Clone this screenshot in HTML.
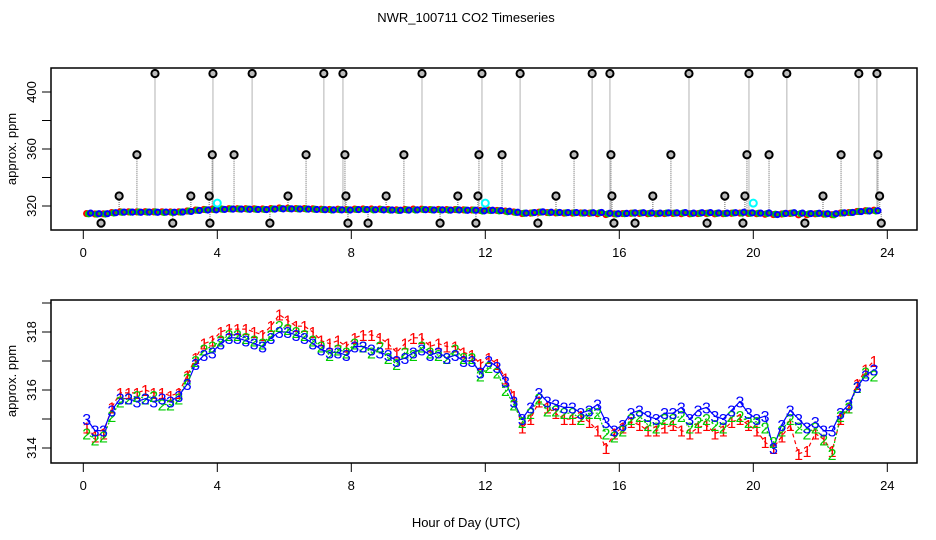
<!DOCTYPE html>
<html><head><meta charset="utf-8"><style>
html,body{margin:0;padding:0;background:#fff;}
svg{display:block;font-family:"Liberation Sans",sans-serif;}
</style></head><body>
<svg id="chart" width="936" height="540" viewBox="0 0 936 540">
<text x="466" y="22" font-size="13" text-anchor="middle">NWR_100711  CO2 Timeseries</text>
<g id="top"></g>
<g id="bot"></g>
<text x="466" y="527" font-size="13" text-anchor="middle">Hour of Day (UTC)</text>
<text transform="translate(16,149) rotate(-90)" font-size="13" text-anchor="middle">approx. ppm</text>
<text transform="translate(16,381) rotate(-90)" font-size="13" text-anchor="middle">approx. ppm</text>
</svg>
<script>
const startHour = 0.1, stepHour = 0.25;
const seriesRed = [314.7,314.4,314.5,315.4,315.9,315.9,315.9,316.0,315.9,315.9,
315.8,315.9,316.5,317.1,317.6,317.7,318.0,318.1,318.1,318.1,
318.0,317.9,318.2,318.6,318.4,318.2,318.2,318.0,317.7,317.6,
317.7,317.5,317.8,317.9,317.9,317.8,317.6,317.3,317.6,317.8,
317.8,317.5,317.6,317.5,317.5,317.3,317.2,316.9,317.1,316.9,
316.4,315.8,314.7,315.0,315.6,315.4,315.2,315.0,315.0,315.1,
314.9,314.6,314.0,314.5,314.7,314.9,314.8,314.6,314.6,314.7,
314.8,314.6,314.5,314.7,314.8,314.5,314.6,314.9,315.0,314.8,
314.6,314.2,314.0,314.4,314.8,313.8,313.9,314.5,314.3,313.9,
315.0,315.4,316.2,316.7,317.0];
const seriesGreen = [314.5,314.3,314.4,315.1,315.6,315.7,315.8,315.7,315.8,315.5,
315.5,315.7,316.4,317.0,317.4,317.5,317.7,317.9,317.9,317.8,
317.7,317.6,317.9,318.2,318.1,318.0,317.9,317.7,317.5,317.2,
317.4,317.3,317.6,317.5,317.3,317.5,317.1,316.9,317.3,317.2,
317.5,317.3,317.2,317.1,317.4,317.1,317.1,316.5,316.8,316.6,
316.0,315.5,314.9,315.2,315.7,315.3,315.3,315.2,315.2,315.0,
315.2,315.2,314.5,314.4,314.6,315.0,315.1,314.8,314.7,315.0,
315.0,315.1,314.7,314.9,315.0,314.8,314.7,315.1,315.1,314.9,
314.9,314.7,314.2,314.6,315.0,314.7,314.5,314.7,314.3,313.8,
315.1,315.4,316.1,316.6,316.5];
const seriesBlue = [315.0,314.6,314.6,315.3,315.7,315.7,315.6,315.7,315.6,315.7,
315.6,315.8,316.2,316.9,317.2,317.3,317.6,317.8,317.8,317.7,
317.6,317.5,317.8,318.0,318.0,317.9,317.8,317.6,317.4,317.3,
317.3,317.2,317.5,317.5,317.4,317.3,317.2,317.0,317.1,317.3,
317.4,317.2,317.3,317.1,317.2,317.0,317.0,316.6,317.0,316.8,
316.3,315.6,315.0,315.4,315.9,315.6,315.5,315.4,315.4,315.2,
315.3,315.5,314.9,314.6,314.8,315.2,315.3,315.1,315.0,315.2,
315.2,315.4,315.0,315.3,315.4,315.1,315.0,315.3,315.6,315.2,
315.0,315.1,314.0,314.8,315.3,315.0,314.7,314.9,314.6,314.6,
315.2,315.5,316.1,316.5,316.7];
const outlierHours = [0.53,1.07,1.6,2.14,2.67,3.21,3.76,3.78,3.85,3.87,4.5,5.04,5.57,6.11,6.65,7.18,7.75,7.81,7.84,7.9,8.5,9.04,9.57,10.11,10.65,11.18,11.72,11.78,11.81,11.9,12.5,13.04,13.57,14.11,14.65,15.19,15.72,15.75,15.78,15.84,16.47,17.0,17.54,18.08,18.62,19.15,19.69,19.75,19.81,19.87,20.47,21.0,21.54,22.08,22.62,23.15,23.69,23.72,23.77,23.82];
const outlierValues = [308,327,356,413,308,327,327,308,356,413,356,413,308,327,356,413,413,356,327,308,308,327,356,413,308,327,308,327,356,413,356,413,308,327,356,413,413,356,327,308,308,327,356,413,308,327,308,327,356,413,356,413,308,327,356,413,413,356,327,308];
const calHours = [4.0,12.0,20.0];
const calValues = [322,322,322];
const xTicks = [0,4,8,12,16,20,24];
const topYTicks = [320,340,360,380,400];
const topYLabels = [320,360,400];
const botYTicks = [314,315,316,317,318,319];
const botYLabels = [314,316,318];

const NS = "http://www.w3.org/2000/svg";
function mk(tag, attrs, parent){const e=document.createElementNS(NS,tag);for(const k in attrs)e.setAttribute(k,attrs[k]);parent.appendChild(e);return e;}
const xS = h => 83.3 + 33.5*h;
const yTop = v => 206 - (v-320)*1.425;
const yBot = v => 448 - (v-314)*29;
const hourAt = i => startHour + stepHour*i;

function axes(g, top, bottom, yScale, yTicks, yLabels, name){
  let r = mk('rect',{x:51,y:top,width:866,height:bottom-top,fill:'none',stroke:'#000','stroke-width':1.5},g);
  
  
  xTicks.forEach(t=>{
    let l = mk('line',{x1:xS(t),x2:xS(t),y1:bottom,y2:bottom+9,stroke:'#000'},g);
    
    
    let tx = mk('text',{x:xS(t),y:bottom+27,'font-size':13,'text-anchor':'middle'},g);
    tx.textContent = t;
    
    
  });
  yTicks.forEach(t=>{
    let l = mk('line',{x1:42,x2:51,y1:yScale(t),y2:yScale(t),stroke:'#000'},g);
    
    
  });
  yLabels.forEach(t=>{
    let tx = mk('text',{transform:`translate(36,${yScale(t)}) rotate(-90)`,'font-size':13,'text-anchor':'middle'},g);
    tx.textContent = t;
    
    
  });
}

// TOP PANEL
const gt = document.getElementById('top');
outlierHours.forEach((h,i)=>{
  let l = mk('line',{x1:xS(h),x2:xS(h),y1:yTop(outlierValues[i]),y2:yTop(316),stroke:'#999','stroke-width':1.5,'stroke-dasharray':'1,1'},gt);
  
  
});
let band = mk('polyline',{points:seriesBlue.map((v,i)=>xS(hourAt(i))+','+yTop(v)).join(' '),fill:'none',stroke:'#00f','stroke-width':4},gt);


[[seriesRed,'#f00'],[seriesGreen,'#0c0'],[seriesBlue,'#00f']].forEach(([arr,c],si)=>{
  arr.forEach((v,i)=>{
    let ci = mk('circle',{cx:xS(hourAt(i))+si*2,cy:yTop(v),r:2.6,fill:'none',stroke:c,'stroke-width':2},gt);
    
    
  });
});
outlierHours.forEach((h,i)=>{
  let c = mk('circle',{cx:xS(h),cy:yTop(outlierValues[i]),r:3.6,fill:'#bbb',stroke:'#000','stroke-width':2},gt);
  
  
});
calHours.forEach((h,i)=>{
  let c = mk('circle',{cx:xS(h),cy:yTop(calValues[i]),r:3.5,fill:'none',stroke:'#0ff','stroke-width':2},gt);
  
  
});
axes(gt,68,230,yTop,topYTicks,topYLabels,'top');

// BOTTOM PANEL
const gb = document.getElementById('bot');
const styles = [[seriesRed,'#f00','1','4,3'],[seriesGreen,'#0c0','2','2,2'],[seriesBlue,'#00f','3','none']];
styles.forEach(([arr,c,sym,dash],si)=>{
  let pl = mk('polyline',{points:arr.map((v,i)=>xS(hourAt(i))+','+yBot(v)).join(' '),fill:'none',stroke:c,'stroke-width':1.2,'stroke-dasharray':dash},gb);
  
  
});
styles.forEach(([arr,c,sym],si)=>{
  arr.forEach((v,i)=>{
    let t = mk('text',{x:xS(hourAt(i)),y:yBot(v)+6,fill:c,'font-size':16,'text-anchor':'middle'},gb);
    t.textContent = sym;
    
    
  });
});
axes(gb,300,463,yBot,botYTicks,botYLabels,'bottom');
</script>
</body></html>
